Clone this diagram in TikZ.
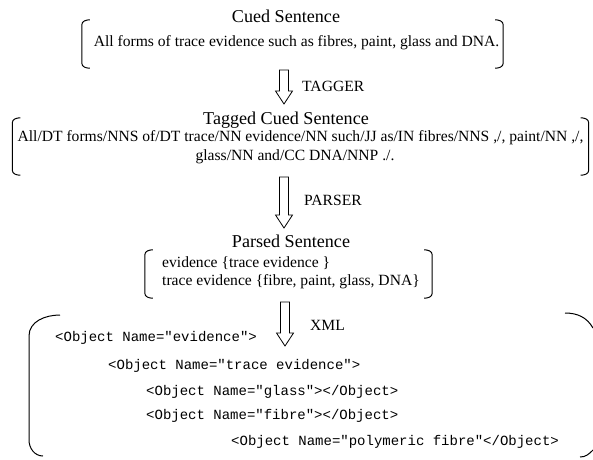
\documentclass[tikz,border=0pt]{standalone}
\usepackage{fontspec}
\setmainfont{Liberation Serif}
\setmonofont{Liberation Mono}
\usetikzlibrary{calc}
\tikzset{
  title/.style={font=\fontsize{18.1}{20}\selectfont, inner sep=0pt},
  body/.style={font=\fontsize{15.6}{18}\selectfont, inner sep=0pt},
  label/.style={font=\fontsize{15.6}{18}\selectfont, inner sep=0pt, anchor=west},
  xmlline/.style={font=\ttfamily\fontsize{14}{16}\selectfont, inner sep=0pt, anchor=west},
  brk/.style={line width=1pt},
  hollowarrow/.style={line width=0.8pt, to path={let \p1=(\tikztostart), \p2=(\tikztotarget) in
    (\x1-4.5pt,\y1) -- (\x1+4.5pt,\y1) -- (\x1+4.5pt,\y2+13pt) -- (\x1+8.5pt,\y2+13pt) -- (\x1,\y2)
    -- (\x1-8.5pt,\y2+13pt) -- (\x1-4.5pt,\y2+13pt) -- cycle}},
  boxarea/.style={inner sep=0pt}
}
\newcommand\drawbrackets[1]{%
  \draw[brk] ($(#1.north west)+(8pt,0)$) to[out=180,in=90] ($(#1.north west)+(0,-5pt)$)
     -- ($(#1.south west)+(0,5pt)$) to[out=-90,in=180] ($(#1.south west)+(8pt,0)$);
  \draw[brk] ($(#1.north east)+(-8pt,0)$) to[out=0,in=90] ($(#1.north east)+(0,-5pt)$)
     -- ($(#1.south east)+(0,5pt)$) to[out=-90,in=0] ($(#1.south east)+(-8pt,0)$);}
\begin{document}
\begin{tikzpicture}[x=1pt,y=-1pt]
\useasboundingbox (0,0) rectangle (593,459);
% box 1
\node[title] (t1) at (286,16) {Cued Sentence};
\node[body] (b1) at (296.5,43) {All forms of trace evidence such as fibres, paint, glass and DNA.};
\node[boxarea, minimum width=421pt, minimum height=48pt] (box1) at (292.5,44) {};
\drawbrackets{box1}
% arrow 1
\coordinate (a1s) at (284,70);
\coordinate (a1e) at (284,104);
\draw[hollowarrow] (a1s) to (a1e);
\node[label] (l1) at (302,86) {TAGGER};
% box 2
\node[title] (t2) at (286,120) {Tagged Cued Sentence};
\node[body] (b2a) at (300.5,138) {All/DT forms/NNS of/DT trace/NN evidence/NN such/JJ as/IN fibres/NNS ,/, paint/NN ,/,};
\node[body] (b2b) at (295,157) {glass/NN and/CC DNA/NNP ./.};
\node[boxarea, minimum width=576pt, minimum height=57pt] (box2) at (300.5,146.5) {};
\drawbrackets{box2}
% arrow 2
\coordinate (a2s) at (284,177);
\coordinate (a2e) at (284,228);
\draw[hollowarrow] (a2s) to (a2e);
\node[label] (l2) at (304,200) {PARSER};
% box 3
\node[title] (t3) at (291,241) {Parsed Sentence};
\node[body, anchor=west] (b3a) at (162,263) {evidence \{trace evidence \}};
\node[body, anchor=west] (b3b) at (162,282) {trace evidence \{fibre, paint, glass, DNA\}};
\node[boxarea, minimum width=287pt, minimum height=48pt] (box3) at (288.5,274) {};
\drawbrackets{box3}
% arrow 3
\coordinate (a3s) at (285,302);
\coordinate (a3e) at (285,346);
\draw[hollowarrow] (a3s) to (a3e);
\node[label] (l3) at (310,325) {XML};
% big bracket
\draw[brk] (60,315) to[out=180,in=90] (29,336) -- (29,440) to[out=-90,in=180] (43,456);
\draw[brk] (565,313) to[out=0,in=120] (593,328);
\draw[brk] (580,457) to[out=0,in=-135] (593,450);
% xml
\node[xmlline] (x1) at (55,338) {<Object Name="evidence">};
\node[xmlline] (x2) at (108,366) {<Object Name="trace evidence">};
\node[xmlline] (x3) at (146,392) {<Object Name="glass"></Object>};
\node[xmlline] (x4) at (146,416) {<Object Name="fibre"></Object>};
\node[xmlline] (x5) at (231,442) {<Object Name="polymeric fibre"</Object>};
\end{tikzpicture}
\end{document}
